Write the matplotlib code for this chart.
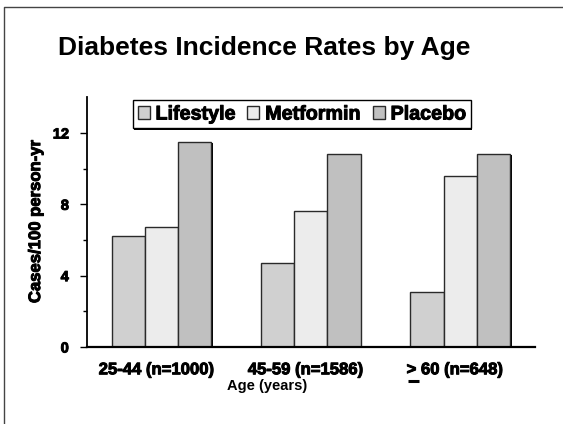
import matplotlib
matplotlib.use("Agg")
import matplotlib.pyplot as plt
import matplotlib.patheffects as pe
from matplotlib.patches import Patch
from matplotlib.lines import Line2D
from matplotlib.transforms import ScaledTranslation
import numpy as np

plt.rcParams['font.family'] = ['Liberation Sans', 'DejaVu Sans']

# data (cases per 100 person-years)
groups = ['25-44 (n=1000)', '45-59 (n=1586)', '> 60 (n=648)']
series = ['Lifestyle', 'Metformin', 'Placebo']
lifestyle = [6.2, 4.7, 3.1]
metformin = [6.7, 7.6, 9.6]
placebo = [11.5, 10.8, 10.8]
colors = ['#d0d0d0', '#ececec', '#c0c0c0']

heavy = [pe.withStroke(linewidth=0.7, foreground='black')]

def shadowed(dx=1.2, dy=-0.6):
    return [pe.SimplePatchShadow(offset=(dx, dy), shadow_rgbFace='black', alpha=1), pe.Normal()]

fig = plt.figure(figsize=(5.63, 4.24), dpi=100)
ax = fig.add_axes([0.1545, 0.1816, 0.7955, 0.589])

x = np.arange(len(groups)) + 0.5
w = 0.222
for i, (vals, c) in enumerate(zip([lifestyle, metformin, placebo], colors)):
    bars = ax.bar(x + (i - 1) * w, vals, w, color=c, edgecolor='#2a2a2a', linewidth=1.0, zorder=2)
    if i == 2:
        for b in bars:
            b.set_path_effects(shadowed())

ax.set_xlim(0, 3)
ax.set_ylim(0, 14)
ax.spines['top'].set_visible(False)
ax.spines['right'].set_visible(False)
ax.spines['left'].set_linewidth(1.3)
ax.spines['bottom'].set_linewidth(1.6)

ax.set_yticks([0, 4, 8, 12])
ax.set_yticks([2, 6, 10], minor=True)
ax.tick_params(axis='y', which='major', length=5, width=1, labelsize=10.5, pad=8)
ax.tick_params(axis='y', which='minor', length=3, width=1)
for t in ax.get_yticklabels():
    t.set_fontweight('bold')
    t.set_path_effects(heavy)

ax.set_xticks(x)
ax.set_xticklabels(groups, fontsize=12, fontweight='bold')
ax.tick_params(axis='x', length=0, pad=11)
for t in ax.get_xticklabels():
    t.set_transform(t.get_transform() + ScaledTranslation(-5.5 / 100, 0, fig.dpi_scale_trans))
    t.set_path_effects(heavy)

yl = ax.set_ylabel('Cases/100 person-yr', fontsize=12, fontweight='bold', labelpad=7)
yl.set_path_effects(heavy)
fig.text(267 / 563, 1 - 386 / 424, 'Age (years)', fontsize=10.5, fontweight='bold',
         ha='center', va='center')

fig.text(264 / 563, 1 - 48 / 424, 'Diabetes Incidence Rates by Age', fontsize=19,
         fontweight='bold', ha='center', va='center')

handles = [Patch(facecolor=c, edgecolor='#2a2a2a', linewidth=1.0) for c in colors]
leg = ax.legend(handles, series, loc='center', bbox_to_anchor=(0.48, 0.933), ncol=3,
                prop={'weight': 'bold', 'size': 14.2}, frameon=True, fancybox=False,
                framealpha=1, facecolor='white', edgecolor='black',
                handlelength=0.6, handleheight=0.6, handletextpad=0.3,
                columnspacing=0.6, borderpad=0.25, borderaxespad=0)
leg.get_frame().set_linewidth(1.0)
leg.get_frame().set_path_effects(shadowed(1.0, -1.0))
for h in leg.legend_handles:
    h.set_path_effects(shadowed(0.8, -0.8))
for t in leg.get_texts():
    t.set_path_effects(heavy)

# underline under ">" of the last group label, making it a "greater or equal" sign
fig.canvas.draw()
renderer = fig.canvas.get_renderer()
lab = ax.get_xticklabels()[2]
bb = lab.get_window_extent(renderer)
gw, _, _ = renderer.get_text_width_height_descent('>', lab.get_fontproperties(), ismath=False)
y_ul = bb.y0 - 4
fig.add_artist(Line2D([bb.x0 + 1, bb.x0 + gw + 3], [y_ul, y_ul], transform=None,
                      color='black', linewidth=2.2, solid_capstyle='butt'))

# slide border on top and left
fig.add_artist(Line2D([4 / 563, 4 / 563, 1], [0, 1 - 7 / 424, 1 - 7 / 424],
                      transform=fig.transFigure, color='#444444', linewidth=1.0))

fig.savefig('out.png', dpi=100)
